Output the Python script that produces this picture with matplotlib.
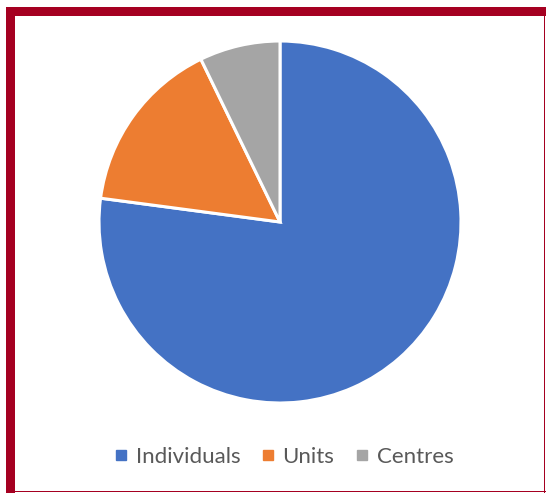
import matplotlib
matplotlib.use("Agg")
import matplotlib.pyplot as plt
from matplotlib.lines import Line2D
from matplotlib.patches import Rectangle

categories = ["Individuals", "Units", "Centres"]
values = [77.1, 15.7, 7.2]
colors = ["#4472C4", "#ED7D31", "#A5A5A5"]

W, H = 546, 493
fig = plt.figure(figsize=(W / 100, H / 100), dpi=100)
fig.patch.set_facecolor("white")

# frame
red = "#A50021"
fig.add_artist(Rectangle((6 / W, 0), 8.5 / W, 1 - 7 / H, transform=fig.transFigure,
                         facecolor=red, edgecolor="none"))
fig.add_artist(Rectangle((6 / W, 1 - 15.5 / H), 1 - 6 / W, 8.5 / H, transform=fig.transFigure,
                         facecolor=red, edgecolor="none"))
fig.add_artist(Rectangle((543.5 / W, 0), 1.8 / W, 1 - 15 / H, transform=fig.transFigure,
                         facecolor=red, edgecolor="none"))
fig.add_artist(Rectangle((6 / W, 0.6 / H), 1 - 6 / W, 1.8 / H, transform=fig.transFigure,
                         facecolor=red, edgecolor="none"))

cx, cy, r = 280, 222, 181
ax = fig.add_axes([(cx - r) / W, (H - cy - r) / H, 2 * r / W, 2 * r / H])
ax.pie(values, colors=colors, startangle=90, counterclock=False, radius=1,
       wedgeprops=dict(edgecolor="white", linewidth=2.2))
ax.set_xlim(-1, 1)
ax.set_ylim(-1, 1)
ax.set_aspect("equal")
ax.axis("off")

handles = [Line2D([], [], marker="s", linestyle="none", markersize=6.5,
                  markerfacecolor=c, markeredgecolor=c) for c in colors]
leg = fig.legend(handles, categories, loc="center", bbox_to_anchor=(284 / W, 1 - 457 / H),
                 ncol=3, frameon=False, handlelength=0.6, handletextpad=0.35,
                 columnspacing=0.95, prop={"family": "Lato", "size": 16})
for t in leg.get_texts():
    t.set_color("#595959")

fig.savefig("out.png", dpi=100, facecolor="white")
